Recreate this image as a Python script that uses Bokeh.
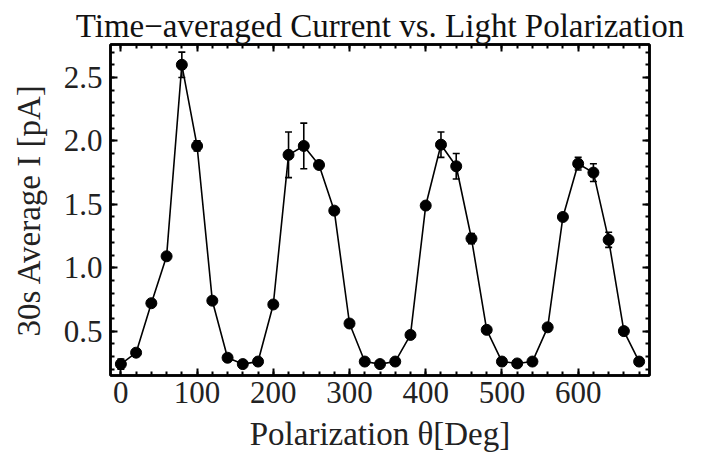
import numpy as np
from bokeh.plotting import figure
from bokeh.models import (LinearAxis, SingleIntervalTicker, Whisker, TeeHead,
                          ColumnDataSource, PrintfTickFormatter, Range1d, Title,
                          CustomJSTickFormatter)
from bokeh.embed import file_html
from bokeh.resources import INLINE

# Polarizer angle (degrees) and the 30 s time-averaged photocurrent (pA)
angle_deg = [0, 20, 40, 60, 80, 100, 120, 140, 160, 180, 200, 220, 240, 260,
             280, 300, 320, 340, 360, 380, 400, 420, 440, 460, 480, 500, 520,
             540, 560, 580, 600, 620, 640, 660, 680]
current_pA = [0.24, 0.33, 0.72, 1.09, 2.60, 1.96, 0.74, 0.29, 0.24, 0.26,
              0.71, 1.89, 1.96, 1.81, 1.45, 0.56, 0.26, 0.24, 0.26, 0.47,
              1.49, 1.97, 1.80, 1.23, 0.51, 0.26, 0.245, 0.26, 0.53, 1.40,
              1.82, 1.75, 1.22, 0.50, 0.26]
current_err = [0.04, 0.02, 0.02, 0.02, 0.10, 0.04, 0.02, 0.02, 0.02, 0.02,
               0.02, 0.18, 0.18, 0.03, 0.02, 0.02, 0.02, 0.02, 0.02, 0.02,
               0.02, 0.10, 0.10, 0.04, 0.02, 0.02, 0.02, 0.02, 0.02, 0.02,
               0.05, 0.07, 0.06, 0.02, 0.02]

x_ticks_major = 100
y_ticks_major = 0.5

FONT = "Liberation Serif"
INK = "#222222"

y = np.array(current_pA)
e = np.array(current_err)
src = ColumnDataSource(dict(x=angle_deg, y=current_pA,
                            upper=(y + e).tolist(), lower=(y - e).tolist()))

p = figure(width=708, height=467, output_backend="svg", toolbar_location=None,
           x_range=Range1d(-13.6, 693.6), y_range=Range1d(0.15, 2.76),
           min_border_left=110, min_border_right=59,
           min_border_top=44, min_border_bottom=92)
p.grid.visible = False
p.background_fill_color = "white"
p.border_fill_color = "white"
p.outline_line_color = "black"
p.outline_line_width = 2.5

p.title = Title(text="Time\u2212averaged Current vs. Light Polarization",
                text_font=FONT, text_font_size="33px", text_font_style="normal",
                text_color="#111111", align="center", standoff=2)

# connecting line, error bars and markers
p.line("x", "y", source=src, line_color="black", line_width=1.6)
p.add_layout(Whisker(base="x", upper="upper", lower="lower", source=src,
                     line_color="black", line_width=1.6, level="glyph",
                     upper_head=TeeHead(size=7, line_color="black", line_width=1.6),
                     lower_head=TeeHead(size=7, line_color="black", line_width=1.6)))
p.scatter("x", "y", source=src, size=11, color="black")

xt = SingleIntervalTicker(interval=x_ticks_major, num_minor_ticks=5)
yt = SingleIntervalTicker(interval=y_ticks_major, num_minor_ticks=5)


def style(ax):
    ax.axis_line_color = "black"
    ax.axis_line_width = 2.5
    ax.major_tick_in = 7
    ax.major_tick_out = 0
    ax.minor_tick_in = 4
    ax.minor_tick_out = 0
    ax.major_tick_line_width = 2
    ax.minor_tick_line_width = 2
    ax.major_tick_line_color = "black"
    ax.minor_tick_line_color = "black"
    ax.major_label_text_font = FONT
    ax.major_label_text_font_size = "31px"
    ax.major_label_text_color = INK
    ax.axis_label_text_font = FONT
    ax.axis_label_text_font_size = "33px"
    ax.axis_label_text_font_style = "normal"
    ax.axis_label_text_color = INK


p.xaxis.ticker = xt
p.yaxis.ticker = yt
p.yaxis.formatter = PrintfTickFormatter(format="%.1f")
p.xaxis.axis_label = "Polarization \u03b8[Deg]"
p.yaxis.axis_label = "30s Average I [pA]"
style(p.xaxis[0])
style(p.yaxis[0])
p.xaxis.major_label_standoff = 6
p.yaxis.major_label_standoff = 8
p.xaxis.axis_label_standoff = 10
p.yaxis.axis_label_standoff = 14

# mirrored frame ticks on the top and right edges, without labels
blank = CustomJSTickFormatter(code="return ''")
top = LinearAxis(ticker=xt, formatter=blank, major_label_standoff=0)
right = LinearAxis(ticker=yt, formatter=blank, major_label_standoff=0)
style(top)
style(right)
p.add_layout(top, "above")
p.add_layout(right, "right")

open("out.html", "w").write(file_html(p, INLINE))
